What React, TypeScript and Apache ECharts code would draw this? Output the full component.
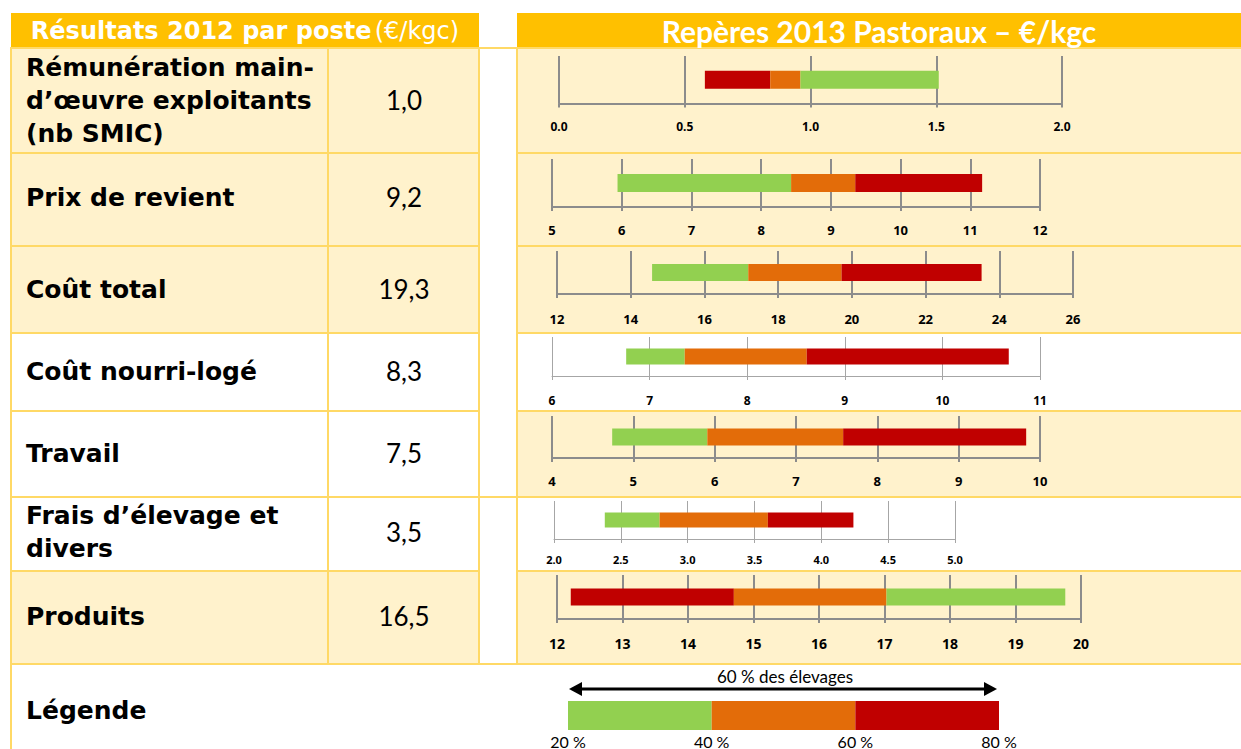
import React, { useEffect, useRef } from "react";
import * as echarts from "echarts";

// ---------- data ----------
const categories = [
  "Rémunération main-\nd’œuvre exploitants\n(nb SMIC)",
  "Prix de revient",
  "Coût total",
  "Coût nourri-logé",
  "Travail",
  "Frais d’élevage et\ndivers",
  "Produits",
];
const results2012 = [1.0, 9.2, 19.3, 8.3, 7.5, 3.5, 16.5];

const axisMin = [0, 5, 12, 6, 4, 2, 12];
const axisMax = [2, 12, 26, 11, 10, 5, 20];
const axisStep = [0.5, 1, 2, 1, 1, 0.5, 1];
const axisDecimals = [1, 0, 0, 0, 0, 1, 0];

// repères: 20 %, 40 %, 60 %, 80 % des élevages (classés du meilleur au moins bon)
const p20 = [1.51, 5.94, 14.58, 6.76, 4.74, 2.38, 19.76];
const p40 = [0.96, 8.43, 17.19, 7.36, 5.91, 2.79, 17.03];
const p60 = [0.84, 9.35, 19.72, 8.61, 7.58, 3.6, 14.7];
const p80 = [0.58, 11.17, 23.52, 10.68, 9.83, 4.24, 12.21];

const legendStops = [20, 40, 60, 80];
const legendTitle = "60 % des élevages";
const headerLeftBold = "Résultats 2012 par poste";
const headerLeftUnit = "(€/kgc)";
const headerRight = "Repères 2013 Pastoraux – €/kgc";
const legendLabel = "Légende";

// ---------- styles / layout ----------
const GREEN = "#92D050";
const ORANGE = "#E36C09";
const RED = "#C00000";
const GOLD = "#FFC000";
const CREAM = "#FFF2CC";
const BORDER = "#FFD966";
const FONT = "Lato, 'Open Sans', sans-serif";
const BOLDFONT = "'DejaVu Sans', Lato, sans-serif";
const AXFONT = "'Noto Sans', 'Open Sans', sans-serif";

const rowEdges = [48, 153, 246, 333, 411, 497, 571, 664];
const leftFill = [CREAM, CREAM, CREAM, "#fff", "#fff", "#fff", CREAM];
const rightFill = [CREAM, CREAM, CREAM, "#fff", CREAM, "#fff", CREAM];
const labelY = [100, 197, 289, 371, 453, 532, 616];

const gridBox = [
  { l: 559, r: 1062, t: 56, b: 103.5, bw: 18, fs: 12, m: 17, thin: false },
  { l: 552, r: 1040, t: 159, b: 207, bw: 18, fs: 13, m: 16, thin: false },
  { l: 557, r: 1073, t: 251, b: 294, bw: 17, fs: 13, m: 18, thin: false },
  { l: 552, r: 1040, t: 337, b: 376, bw: 16, fs: 12, m: 18, thin: true },
  { l: 552, r: 1040, t: 416, b: 458, bw: 17, fs: 13, m: 16, thin: false },
  { l: 554, r: 955, t: 501, b: 539, bw: 15, fs: 11, m: 15, thin: true },
  { l: 557, r: 1081, t: 575, b: 619, bw: 17, fs: 14, m: 17, thin: false },
];

function buildOption() {
  const grid: any[] = [];
  const xAxis: any[] = [];
  const yAxis: any[] = [];
  const series: any[] = [];

  categories.forEach((cat, i) => {
    const g = gridBox[i];
    const lineColor = g.thin ? "#A6A6A6" : "#8C8C8C";
    const lineW = g.thin ? 1 : 2;
    grid.push({ left: g.l, top: g.t, width: g.r - g.l, height: g.b - g.t, containLabel: false });
    xAxis.push({
      gridIndex: i,
      type: "value",
      min: axisMin[i],
      max: axisMax[i],
      interval: axisStep[i],
      axisLine: { show: true, lineStyle: { color: lineColor, width: lineW } },
      axisTick: { show: true, length: 4, lineStyle: { color: lineColor, width: lineW } },
      splitLine: { show: true, lineStyle: { color: lineColor, width: lineW } },
      axisLabel: {
        show: true,
        margin: g.m,
        fontSize: g.fs,
        fontWeight: "bold",
        fontFamily: AXFONT,
        color: "#000",
        showMinLabel: true,
        showMaxLabel: true,
        formatter: (v: number) => v.toFixed(axisDecimals[i]),
      },
    });
    yAxis.push({ gridIndex: i, type: "category", data: [cat], show: false });

    const asc = p20[i] < p80[i];
    const segs = asc
      ? [[p20[i], p40[i], GREEN], [p40[i], p60[i], ORANGE], [p60[i], p80[i], RED]]
      : [[p80[i], p60[i], RED], [p60[i], p40[i], ORANGE], [p40[i], p20[i], GREEN]];
    const stack = "s" + i;
    series.push({
      type: "bar",
      stack,
      xAxisIndex: i,
      yAxisIndex: i,
      barWidth: g.bw,
      silent: true,
      itemStyle: { color: "rgba(0,0,0,0)" },
      data: [segs[0][0] as number],
    });
    segs.forEach((s) => {
      series.push({
        type: "bar",
        stack,
        xAxisIndex: i,
        yAxisIndex: i,
        barWidth: g.bw,
        silent: true,
        itemStyle: { color: s[2] as string },
        data: [(s[1] as number) - (s[0] as number)],
      });
    });
  });

  // legend bar
  const li = categories.length;
  grid.push({ left: 568, top: 701, width: 431, height: 30, containLabel: false });
  xAxis.push({
    gridIndex: li,
    type: "value",
    min: legendStops[0],
    max: legendStops[legendStops.length - 1],
    interval: legendStops[1] - legendStops[0],
    axisLine: { show: false },
    axisTick: { show: false },
    splitLine: { show: false },
    axisLabel: {
      show: true,
      margin: 3,
      fontSize: 16,
      fontFamily: FONT,
      color: "#000",
      showMinLabel: true,
      showMaxLabel: true,
      formatter: (v: number) => v + " %",
    },
  });
  yAxis.push({ gridIndex: li, type: "category", data: ["légende"], show: false });
  const legendColors = [GREEN, ORANGE, RED];
  series.push({
    type: "bar",
    stack: "leg",
    xAxisIndex: li,
    yAxisIndex: li,
    barWidth: 30,
    silent: true,
    itemStyle: { color: "rgba(0,0,0,0)" },
    data: [legendStops[0]],
  });
  for (let k = 1; k < legendStops.length; k++) {
    series.push({
      type: "bar",
      stack: "leg",
      xAxisIndex: li,
      yAxisIndex: li,
      barWidth: 30,
      silent: true,
      itemStyle: { color: legendColors[k - 1] },
      data: [legendStops[k] - legendStops[k - 1]],
    });
  }

  // ---------- table graphics ----------
  const elements: any[] = [];
  const rect = (x: number, y: number, w: number, h: number, fill: string, stroke?: string) => ({
    type: "rect",
    silent: true,
    z: -10,
    shape: { x, y, width: w, height: h },
    style: { fill, stroke: stroke || "none", lineWidth: stroke ? 2 : 0 },
  });
  // headers
  elements.push(rect(11, 13, 468, 35, GOLD));
  elements.push(rect(517, 13, 740, 35, GOLD));
  // legend row
  elements.push(rect(11, 664, 1250, 100, "#fff", BORDER));
  // gap column
  elements.push(rect(479, 48, 38, 449, "#fff", BORDER));
  elements.push(rect(479, 497, 38, 167, "#fff", BORDER));
  for (let r = 0; r < 7; r++) {
    const y = rowEdges[r];
    const h = rowEdges[r + 1] - rowEdges[r];
    elements.push(rect(11, y, 317, h, leftFill[r], BORDER));
    elements.push(rect(328, y, 151, h, leftFill[r], BORDER));
    elements.push(rect(517, y, 740, h, rightFill[r], BORDER));
  }
  const text = (x: number, y: number, t: string, o: any) => ({
    type: "text",
    silent: true,
    z: 100,
    x,
    y,
    style: {
      text: t,
      fill: "#000",
      fontFamily: FONT,
      textAlign: o.align || "left",
      align: o.align || "left",
      textVerticalAlign: "middle",
      verticalAlign: "middle",
      ...o,
    },
  });
  elements.push({
    type: "text",
    silent: true,
    z: 100,
    x: 245,
    y: 31,
    style: {
      text: `{b|${headerLeftBold}} {r|${headerLeftUnit}}`,
      textAlign: "center",
      align: "center",
      textVerticalAlign: "middle",
      verticalAlign: "middle",
      rich: {
        b: { fontFamily: BOLDFONT, fontWeight: "bold", fontSize: 24, fill: "#fff" },
        r: { fontFamily: BOLDFONT, fontWeight: "normal", fontSize: 24, fill: "#fff" },
      },
    },
  });
  elements.push(
    text(879, 31, headerRight, { align: "center", fontSize: 30, fontWeight: "bold", fill: "#fff" })
  );
  categories.forEach((c, i) => {
    elements.push(
      text(26, labelY[i], c, {
        fontSize: 25,
        fontWeight: "bold",
        fontFamily: BOLDFONT,
        lineHeight: 33,
      })
    );
    elements.push(
      text(404, labelY[i], results2012[i].toFixed(1).replace(".", ","), {
        align: "center",
        fontSize: 26,
      })
    );
  });
  elements.push(
    text(26, 710, legendLabel, { fontSize: 25, fontWeight: "bold", fontFamily: BOLDFONT })
  );
  // legend arrow
  elements.push(text(785, 676, legendTitle, { align: "center", fontSize: 17 }));
  elements.push({
    type: "line",
    silent: true,
    z: 100,
    shape: { x1: 580, y1: 689, x2: 986, y2: 689 },
    style: { stroke: "#000", lineWidth: 3 },
  });
  elements.push({
    type: "polygon",
    silent: true,
    z: 100,
    shape: { points: [[569, 689], [582, 682], [582, 696]] },
    style: { fill: "#000" },
  });
  elements.push({
    type: "polygon",
    silent: true,
    z: 100,
    shape: { points: [[997, 689], [984, 682], [984, 696]] },
    style: { fill: "#000" },
  });

  return {
    animation: false,
    backgroundColor: "#fff",
    textStyle: { fontFamily: AXFONT },
    grid,
    xAxis,
    yAxis,
    series,
    graphic: { elements },
  };
}

export default function App() {
  const ref = useRef<HTMLDivElement>(null);
  useEffect(() => {
    if (!ref.current) return;
    const chart = echarts.init(ref.current, undefined, { renderer: "svg" });
    chart.setOption(buildOption() as any);
    return () => chart.dispose();
  }, []);
  return (
    <div
      ref={ref}
      style={{ position: "absolute", left: 0, top: 0, width: 1241, height: 749 }}
    />
  );
}
